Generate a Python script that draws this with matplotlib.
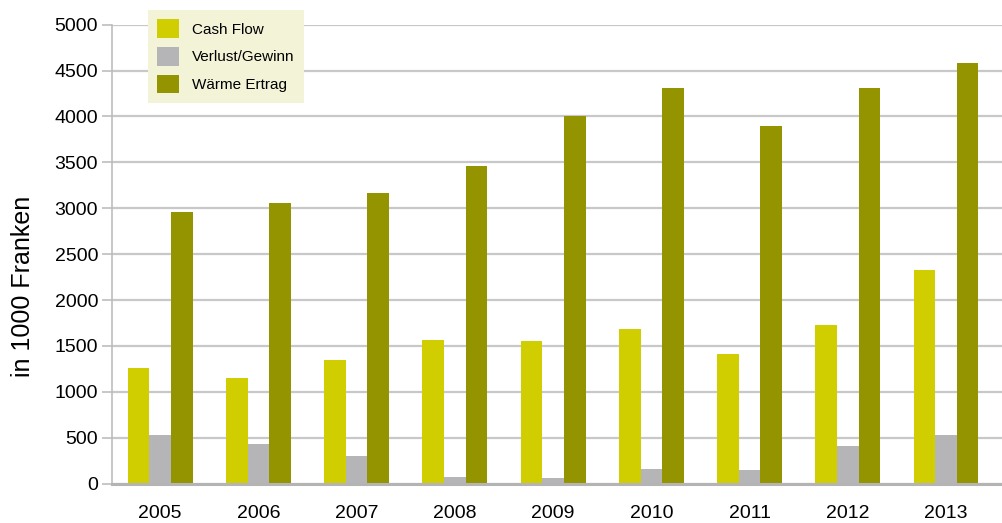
import matplotlib.pyplot as plt
import numpy as np

plt.rcParams['font.family'] = ['Liberation Sans', 'DejaVu Sans']

# Daten (in 1000 Franken)
jahre = ['2005', '2006', '2007', '2008', '2009', '2010', '2011', '2012', '2013']
cash_flow = [1260, 1150, 1345, 1565, 1555, 1685, 1410, 1728, 2328]
verlust_gewinn = [525, 430, 306, 78, 66, 165, 153, 415, 525]
waerme_ertrag = [2960, 3058, 3166, 3461, 4005, 4312, 3896, 4312, 4585]

serien = ['Cash Flow', 'Verlust/Gewinn', 'Wärme Ertrag']
farben = ['#d0cd00', '#b5b5b7', '#949400']

fig = plt.figure(figsize=(10.03, 5.23), dpi=100)
ax = fig.add_axes([0.1117, 0.0752, 0.8883, 0.8776])

x = np.arange(len(jahre))
breite = 0.22
for i, (werte, name, farbe) in enumerate(zip([cash_flow, verlust_gewinn, waerme_ertrag], serien, farben)):
    ax.bar(x + (i - 1) * breite, werte, width=breite, color=farbe, label=name, zorder=3)

ax.set_ylim(0, 5000)
ax.set_xlim(-0.49, len(jahre) - 1 + 0.58)
ax.set_yticks(np.arange(0, 5001, 500))
ax.set_xticks(x)
ax.set_xticklabels(jahre)

# Gitter und Achsen
ax.yaxis.grid(True, color='#c8c8c8', linewidth=1.6, zorder=0)
for s in ['top', 'right']:
    ax.spines[s].set_visible(False)
ax.spines['left'].set_color('#bdbdbd')
ax.spines['left'].set_linewidth(1.2)
ax.spines['bottom'].set_color('#b4b4b4')
ax.spines['bottom'].set_linewidth(2.2)
ax.spines['bottom'].set_zorder(4)

ax.tick_params(axis='y', length=7, width=1.2, color='#bdbdbd', labelsize=14, pad=3)
ax.tick_params(axis='x', length=0, labelsize=14, pad=15)
ax.set_ylabel('in 1000 Franken', fontsize=18)
ax.yaxis.set_label_coords(-0.086, 0.43)

leg = fig.legend(loc='upper left', bbox_to_anchor=(148 / 1003, 1 - 10 / 523),
                 fontsize=11, frameon=True, fancybox=False,
                 handlelength=1.45, handleheight=1.5, handletextpad=0.85,
                 labelspacing=0.6, borderpad=0.6, borderaxespad=0)
leg.get_frame().set_facecolor('#f3f3d8')
leg.get_frame().set_edgecolor('none')
leg.get_frame().set_alpha(1)
leg.set_zorder(10)

fig.savefig('out.png', dpi=100)
